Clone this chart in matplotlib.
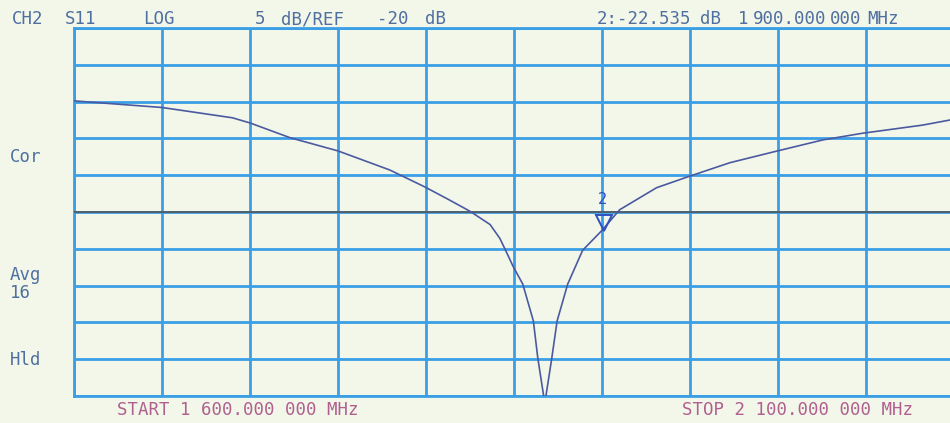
import matplotlib
matplotlib.use('Agg')
import matplotlib.pyplot as plt
from matplotlib.transforms import ScaledTranslation

# S11 trace (MHz, dB)
freq_mhz = [1600, 1650, 1690, 1700, 1722.7, 1750, 1779.5, 1799.4, 1812, 1825,
            1836.4, 1842, 1846, 1849.5, 1855, 1861, 1863.5, 1867.5, 1871.5, 1874.5,
            1880.5, 1889, 1900, 1910, 1931, 1949, 1972.7, 1998, 2025.6, 2048,
            2082, 2100]
s11_db = [-4.9, -5.8, -7.2, -7.9, -9.9, -11.7, -14.3, -16.6, -18.2, -19.9,
          -21.7, -23.6, -25.6, -27.4, -29.8, -34.8, -39.8, -46.0, -39.8, -34.8,
          -29.8, -25.2, -22.5, -19.7, -16.7, -15.2, -13.3, -11.8, -10.2, -9.3,
          -8.2, -7.4]

start_mhz = 1600
stop_mhz = 2100
ref_db = -20
scale_db = 5
marker_mhz = 1900
marker_db = -22.535

bg = '#f3f7ea'
grid_blue = '#3a9fe6'
trace_col = '#4b5aa0'
head_col = '#4f6fa0'
foot_col = '#b0608f'

fig = plt.figure(figsize=(9.5, 4.23), dpi=100, facecolor=bg)
ax = fig.add_axes([74 / 950, 27 / 423, 880 / 950, 368 / 423])
ax.set_facecolor(bg)

ax.set_xlim(start_mhz, stop_mhz)
ax.set_ylim(ref_db - 5 * scale_db, ref_db + 5 * scale_db)
ax.set_xticks(range(start_mhz, stop_mhz + 1, 50))
ax.set_yticks(range(ref_db - 5 * scale_db, ref_db + 5 * scale_db + 1, scale_db))
ax.tick_params(length=0, labelbottom=False, labelleft=False)
ax.grid(True, color=grid_blue, lw=2.0)
for s in ax.spines.values():
    s.set_color(grid_blue)
    s.set_linewidth(2.0)

ax.axhline(ref_db, color='#555555', lw=1.2, zorder=3)
ax.plot(freq_mhz, s11_db, color=trace_col, lw=1.2, zorder=4)

# marker 2: open triangle with its tip on the trace, number above
up = ax.transData + ScaledTranslation(2 / 100, 8 / 100, fig.dpi_scale_trans)
ax.plot([marker_mhz], [marker_db], marker='v', ms=11, mfc='none',
        mec='#3050c0', mew=1.4, transform=up, zorder=5, clip_on=False)
ax.annotate('2', xy=(marker_mhz, marker_db), xytext=(0, 17),
            textcoords='offset points', ha='center', va='bottom',
            color='#3050c0', fontsize=11, family='DejaVu Sans Mono', zorder=5)

mono = 'DejaVu Sans Mono'
fs = 12.5


def px(x, y):
    return x / 950, 1 - y / 423


def put(x, y, s, col, **kw):
    fig.text(*px(x, y), s, color=col, fontsize=fs, family=mono,
             ha='left', va='center', **kw)


# header line
put(12, 19, 'CH2', head_col)
put(65, 19, 'S11', head_col)
put(143, 19, 'LOG', head_col)
put(255, 19, '5', head_col)
put(281, 19, 'dB/REF', head_col)
put(377, 19, '-20', head_col)
put(425, 19, 'dB', head_col)
put(597, 19, '2:-22.535', head_col)
put(700, 19, 'dB', head_col)
put(738, 19, '1', head_col)
put(753, 19, '900.000', head_col)
put(830, 19, '000', head_col)
put(867, 19, 'MHz', head_col)

# left annotations
put(10, 157, 'Cor', head_col)
put(10, 275, 'Avg', head_col)
put(10, 293, '16', head_col)
put(10, 360, 'Hld', head_col)

# footer
put(117, 410, 'START 1 600.000 000 MHz', foot_col)
put(682, 410, 'STOP 2 100.000 000 MHz', foot_col)

fig.savefig('out.png', dpi=100, facecolor=bg)
